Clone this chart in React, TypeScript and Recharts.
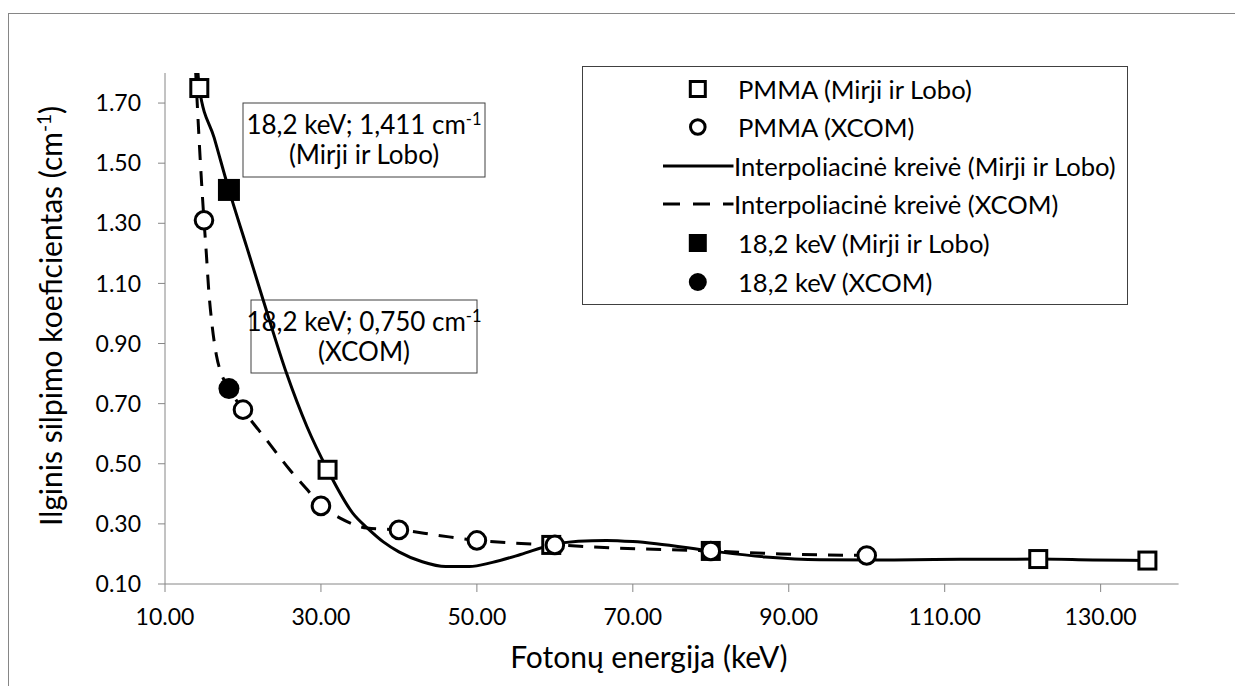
import React from 'react';
import { ComposedChart, Line, Scatter, XAxis, YAxis, Legend, Customized } from 'recharts';

const FONT = 'Lato, "Open Sans", sans-serif';

// Measured attenuation coefficients, PMMA (Mirji ir Lobo)
const mirjiEnergy = [14.4, 30.85, 59.54, 80, 122, 136];
const mirjiMu = [1.75, 0.48, 0.23, 0.21, 0.183, 0.178];

// XCOM reference values, PMMA
const xcomEnergy = [15, 20, 30, 40, 50, 60, 80, 100];
const xcomMu = [1.31, 0.68, 0.36, 0.28, 0.245, 0.23, 0.21, 0.195];

// 18,2 keV points
const markEnergy = 18.2;
const markMirjiMu = 1.411;
const markXcomMu = 0.75;

// Interpolation curve (Mirji ir Lobo)
const mirjiCurveEnergy = [14.1, 14.4, 16.3, 18.2, 20.5, 22.6, 25.6, 28.2, 30.85, 34.1, 36.0, 38.0, 40.0, 43.0, 46.0, 49.0, 52.0, 55.6, 59.54, 63.0, 66.6, 70.0, 73.0, 80.0, 87.0, 94.0, 103.0, 112.0, 122.0, 129.0, 136.0];
const mirjiCurveMu = [1.85, 1.75, 1.585, 1.411, 1.22, 1.044, 0.8, 0.624, 0.48, 0.335, 0.285, 0.24, 0.207, 0.174, 0.158, 0.158, 0.172, 0.198, 0.23, 0.242, 0.245, 0.241, 0.234, 0.21, 0.19, 0.181, 0.18, 0.182, 0.183, 0.18, 0.178];

// Interpolation curve (XCOM)
const xcomCurveEnergy = [13.9, 14.5, 15.0, 15.3, 15.6, 16.0, 16.6, 17.3, 18.2, 20.0, 23.0, 26.0, 28.2, 30.0, 32.4, 35.9, 40.0, 45.0, 50.0, 55.0, 60.0, 67.5, 80.0, 89.0, 100.0];
const xcomCurveMu = [1.82, 1.52, 1.31, 1.2, 1.08, 0.97, 0.86, 0.795, 0.75, 0.68, 0.58, 0.48, 0.415, 0.36, 0.32, 0.286, 0.28, 0.262, 0.245, 0.236, 0.23, 0.22, 0.21, 0.2, 0.195];

const xTicks = [10, 30, 50, 70, 90, 110, 130];
const yTicks = [0.1, 0.3, 0.5, 0.7, 0.9, 1.1, 1.3, 1.5, 1.7];

const legendNames = [
  'PMMA (Mirji ir Lobo)',
  'PMMA (XCOM)',
  'Interpoliacinė kreivė (Mirji ir Lobo)',
  'Interpoliacinė kreivė (XCOM)',
  '18,2 keV (Mirji ir Lobo)',
  '18,2 keV (XCOM)',
];
const legendKinds = ['openSquare', 'openCircle', 'solid', 'dashed', 'filledSquare', 'filledCircle'];

const xTitle = 'Fotonų energija (keV)';
const yTitle = 'Ilginis silpimo koeficientas (cm';
const noteMirji = ['18,2 keV; 1,411 cm', '(Mirji ir Lobo)'];
const noteXcom = ['18,2 keV; 0,750 cm', '(XCOM)'];

const pts = (xs: number[], ys: number[]) => xs.map((x, i) => ({ x, y: ys[i] }));

const mirjiPts = pts(mirjiEnergy, mirjiMu);
const xcomPts = pts(xcomEnergy, xcomMu);
const markMirjiPts = [{ x: markEnergy, y: markMirjiMu }];
const markXcomPts = [{ x: markEnergy, y: markXcomMu }];
const mirjiCurve = pts(mirjiCurveEnergy, mirjiCurveMu);
const xcomCurve = pts(xcomCurveEnergy, xcomCurveMu);

const W = 1235;
const H = 678;
const AXIS = '#868686';
const DASH = '15 11';

const OpenSquare = (p: any) => (
  <rect x={p.cx - 8.5} y={p.cy - 8.5} width={17} height={17} fill="#fff" stroke="#000" strokeWidth={3} />
);
const OpenCircle = (p: any) => <circle cx={p.cx} cy={p.cy} r={8.8} fill="#fff" stroke="#000" strokeWidth={3} />;
const FilledSquare = (p: any) => <rect x={p.cx - 11} y={p.cy - 11} width={22} height={22} fill="#000" />;
const FilledCircle = (p: any) => <circle cx={p.cx} cy={p.cy} r={10.5} fill="#000" />;

const LegendSymbol = ({ kind }: { kind: string }) => {
  const cx = 114.8;
  const cy = 19;
  switch (kind) {
    case 'openSquare':
      return <rect x={cx - 7.5} y={cy - 7.5} width={15} height={15} fill="#fff" stroke="#000" strokeWidth={3} />;
    case 'openCircle':
      return <circle cx={cx} cy={cy} r={7.3} fill="#fff" stroke="#000" strokeWidth={3} />;
    case 'solid':
      return <line x1={80} x2={150.5} y1={cy} y2={cy} stroke="#000" strokeWidth={3} />;
    case 'dashed':
      return <line x1={80} x2={150.5} y1={cy} y2={cy} stroke="#000" strokeWidth={3} strokeDasharray="17 13" />;
    case 'filledSquare':
      return <rect x={cx - 9} y={cy - 9} width={18} height={18} fill="#000" />;
    default:
      return <circle cx={cx} cy={cy} r={9} fill="#000" />;
  }
};

const LegendBox = () => (
  <div
    style={{
      width: 546,
      height: 239,
      border: '1px solid #404040',
      boxSizing: 'border-box',
      background: '#fff',
      position: 'relative',
      fontFamily: FONT,
      fontSize: 25.6,
      color: '#000',
    }}
  >
    {legendNames.map((name, i) => {
      const isLine = legendKinds[i] === 'solid' || legendKinds[i] === 'dashed';
      return (
        <div key={name} style={{ position: 'absolute', left: 0, top: 2.5 + i * 38.6, width: 546, height: 38 }}>
          <svg width={160} height={38} style={{ position: 'absolute', left: 0, top: 0 }}>
            <LegendSymbol kind={legendKinds[i]} />
          </svg>
          <span
            style={{
              position: 'absolute',
              left: isLine ? 151 : 155,
              top: 0,
              lineHeight: '38px',
              whiteSpace: 'nowrap',
            }}
          >
            {name}
          </span>
        </div>
      );
    })}
  </div>
);

// Annotation box: two centred lines, the first ending in a superscript
const NoteBox = ({ x, y, w, h, lines }: { x: number; y: number; w: number; h: number; lines: string[] }) => {
  const cx = x + w / 2;
  const b1 = y + 31;
  const b2 = b1 + 29.5;
  return (
    <g>
      <rect x={x} y={y} width={w} height={h} fill="#fff" stroke="#404040" strokeWidth={1} />
      <text textAnchor="middle" fontFamily={FONT} fontSize={26} fill="#000">
        <tspan x={cx} y={b1}>{lines[0]}</tspan>
        <tspan dy={-9} fontSize={16.5}>-1</tspan>
        <tspan x={cx} y={b2}>{lines[1]}</tspan>
      </text>
    </g>
  );
};

const Decorations = () => (
  <g>
    <NoteBox x={235} y={95} w={242} h={74} lines={noteMirji} />
    <NoteBox x={243} y={292} w={226} h={73} lines={noteXcom} />
    <text x={640.8} y={660} textAnchor="middle" fontFamily={FONT} fontSize={30} fill="#000">
      {xTitle}
    </text>
    <text
      x={54}
      y={308}
      textAnchor="middle"
      fontFamily={FONT}
      fontSize={30}
      fill="#000"
      transform="rotate(-90, 54, 308)"
    >
      {yTitle}
      <tspan dy={-11} fontSize={19}>-1</tspan>
      <tspan dy={11}>)</tspan>
    </text>
  </g>
);

const tickStyle = { fontFamily: FONT, fontSize: 23, fill: '#000' };

export default function App() {
  return (
    <div style={{ position: 'relative', width: W, height: H, background: '#fff' }}>
      <div
        style={{
          position: 'absolute',
          left: 0,
          top: 5,
          width: W,
          height: H - 5,
          borderLeft: `1px solid ${AXIS}`,
          borderTop: `1px solid ${AXIS}`,
          boxSizing: 'border-box',
        }}
      />
      <div style={{ position: 'absolute', left: 0, top: 0 }}>
        <ComposedChart width={W} height={H} margin={{ top: 65, right: 64.4, bottom: 0, left: 0 }}>
          <XAxis
            type="number"
            dataKey="x"
            domain={[10, 140]}
            ticks={xTicks}
            interval={0}
            allowDataOverflow
            height={102}
            tickSize={8}
            tickMargin={17}
            stroke={AXIS}
            tickLine={{ stroke: AXIS }}
            tick={tickStyle}
            tickFormatter={(v: number) => v.toFixed(2)}
          />
          <YAxis
            type="number"
            dataKey="y"
            domain={[0.1, 1.8]}
            ticks={yTicks}
            interval={0}
            allowDataOverflow
            width={157}
            tickSize={7}
            tickMargin={17}
            stroke={AXIS}
            tickLine={{ stroke: AXIS }}
            tick={tickStyle}
            tickFormatter={(v: number) => v.toFixed(2)}
          />
          <Line
            data={mirjiCurve}
            dataKey="y"
            name={legendNames[2]}
            type="monotone"
            stroke="#000"
            strokeWidth={3}
            dot={false}
            activeDot={false}
            isAnimationActive={false}
          />
          <Line
            data={xcomCurve}
            dataKey="y"
            name={legendNames[3]}
            type="monotone"
            stroke="#000"
            strokeWidth={3}
            strokeDasharray={DASH}
            dot={false}
            activeDot={false}
            isAnimationActive={false}
          />
          <Scatter data={mirjiPts} dataKey="y" name={legendNames[0]} shape={OpenSquare} isAnimationActive={false} />
          <Scatter data={xcomPts} dataKey="y" name={legendNames[1]} shape={OpenCircle} isAnimationActive={false} />
          <Scatter data={markMirjiPts} dataKey="y" name={legendNames[4]} shape={FilledSquare} isAnimationActive={false} />
          <Scatter data={markXcomPts} dataKey="y" name={legendNames[5]} shape={FilledCircle} isAnimationActive={false} />
          <Customized component={Decorations} />
          <Legend
            layout="vertical"
            align="center"
            verticalAlign="middle"
            content={() => <LegendBox />}
            wrapperStyle={{ position: 'absolute', left: 574, top: 58, width: 546, height: 239 }}
          />
        </ComposedChart>
      </div>
    </div>
  );
}
